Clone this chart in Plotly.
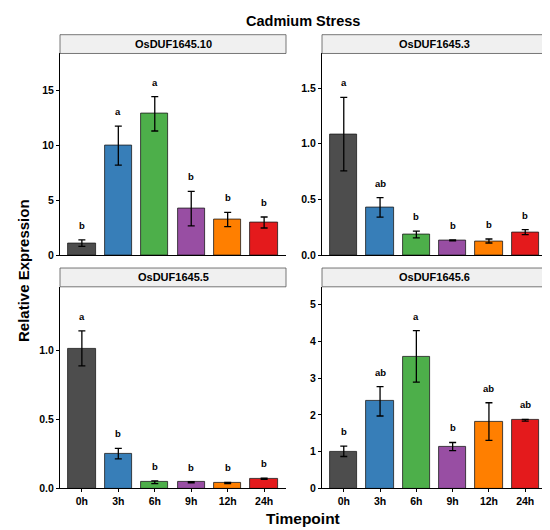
import plotly.graph_objects as go
from plotly.subplots import make_subplots

# Data
timepoints = ["0h", "3h", "6h", "9h", "12h", "24h"]
bar_colors = ["#4D4D4D", "#377EB8", "#4DAF4A", "#984EA3", "#FF7F00", "#E41A1C"]

genes = ["OsDUF1645.10", "OsDUF1645.3", "OsDUF1645.5", "OsDUF1645.6"]

mean_10 = [1.1, 10.0, 12.9, 4.25, 3.25, 2.98]
se_10 = [0.3, 1.78, 1.57, 1.57, 0.65, 0.5]
sig_10 = ["b", "a", "a", "b", "b", "b"]

mean_3 = [1.086, 0.429, 0.186, 0.133, 0.127, 0.207]
se_3 = [0.33, 0.088, 0.03, 0.005, 0.018, 0.022]
sig_3 = ["a", "ab", "b", "b", "b", "b"]

mean_5 = [1.014, 0.252, 0.045, 0.045, 0.04, 0.071]
se_5 = [0.127, 0.038, 0.01, 0.005, 0.005, 0.004]
sig_5 = ["a", "b", "b", "b", "b", "b"]

mean_6 = [1.01, 2.37, 3.59, 1.14, 1.82, 1.855]
se_6 = [0.14, 0.4, 0.7, 0.11, 0.51, 0.025]
sig_6 = ["b", "ab", "a", "b", "ab", "ab"]

means = [mean_10, mean_3, mean_5, mean_6]
errors = [se_10, se_3, se_5, se_6]
letters = [sig_10, sig_3, sig_5, sig_6]
y_max = [18.4, 1.81, 1.46, 5.48]
y_dtick = [5, 0.5, 0.5, 1]
y_fmt = ["d", ".1f", ".1f", "d"]

W, H = 550, 530
FONT = "Liberation Sans, Arial, sans-serif"

# panel boxes in pixels (left, right, top, bottom)
cols_px = [(52, 278), (314, 539)]
rows_px = [(46, 250), (282, 486)]
strip_h = 19

fig = make_subplots(rows=2, cols=2)

for i, gene in enumerate(genes):
    r, c = i // 2 + 1, i % 2 + 1
    fig.add_trace(
        go.Bar(
            x=timepoints,
            y=means[i],
            width=0.75,
            marker=dict(color=bar_colors, line=dict(color="#1a1a1a", width=0.8)),
            error_y=dict(type="data", array=errors[i], color="black",
                         thickness=1.3, width=3.5),
            showlegend=False,
        ),
        row=r, col=c,
    )
    for tp, m, s, lab in zip(timepoints, means[i], errors[i], letters[i]):
        fig.add_annotation(
            x=tp, y=m + s, text=lab, showarrow=False,
            yanchor="bottom", yshift=7,
            font=dict(family=FONT, size=9.5, color="black", weight="bold"),
            row=r, col=c,
        )

    x0, x1 = cols_px[c - 1]
    y0, y1 = rows_px[r - 1]
    xa = "xaxis" if i == 0 else f"xaxis{i + 1}"
    ya = "yaxis" if i == 0 else f"yaxis{i + 1}"
    fig.layout[xa].update(
        domain=[x0 / W, x1 / W],
        range=[-0.6, 5.6],
        showline=True, linecolor="black", linewidth=1,
        ticks="outside" if r == 2 else "", ticklen=3, tickcolor="black",
        showticklabels=(r == 2),
        tickfont=dict(family=FONT, size=10.5, color="black", weight="bold"),
        showgrid=False, zeroline=False,
    )
    fig.layout[ya].update(
        domain=[1 - y1 / H, 1 - y0 / H],
        range=[0, y_max[i]],
        dtick=y_dtick[i], tick0=0, tickformat=y_fmt[i],
        showline=True, linecolor="black", linewidth=1,
        ticks="outside", ticklen=3, tickcolor="black",
        tickfont=dict(family=FONT, size=10.5, color="black", weight="bold"),
        showgrid=False, zeroline=False,
    )

    # facet strip
    fig.add_shape(
        type="rect", xref="paper", yref="paper",
        x0=x0 / W, x1=x1 / W,
        y0=1 - y0 / H, y1=1 - (y0 - strip_h) / H,
        fillcolor="#F0F0F0", line=dict(color="#555555", width=0.8),
    )
    fig.add_annotation(
        xref="paper", yref="paper",
        x=(x0 + x1) / 2 / W, y=1 - (y0 - strip_h / 2) / H,
        text=gene, showarrow=False, xanchor="center", yanchor="middle",
        font=dict(family=FONT, size=11, color="black", weight="bold"),
    )

fig.add_annotation(
    xref="paper", yref="paper", x=295 / W, y=1 - 13 / H,
    text="Cadmium Stress", showarrow=False, xanchor="center", yanchor="middle",
    font=dict(family=FONT, size=14.5, color="black", weight="bold"),
)
fig.add_annotation(
    xref="paper", yref="paper", x=16 / W, y=1 - 266 / H,
    text="Relative Expression", showarrow=False, textangle=-90,
    xanchor="center", yanchor="middle",
    font=dict(family=FONT, size=15, color="black", weight="bold"),
)
fig.add_annotation(
    xref="paper", yref="paper", x=295 / W, y=1 - 516 / H,
    text="Timepoint", showarrow=False, xanchor="center", yanchor="middle",
    font=dict(family=FONT, size=15.5, color="black", weight="bold"),
)

fig.update_layout(
    width=W, height=H,
    margin=dict(t=0, l=0, r=0, b=0),
    plot_bgcolor="white", paper_bgcolor="white",
    bargap=0,
)

fig.write_html("out.html")
